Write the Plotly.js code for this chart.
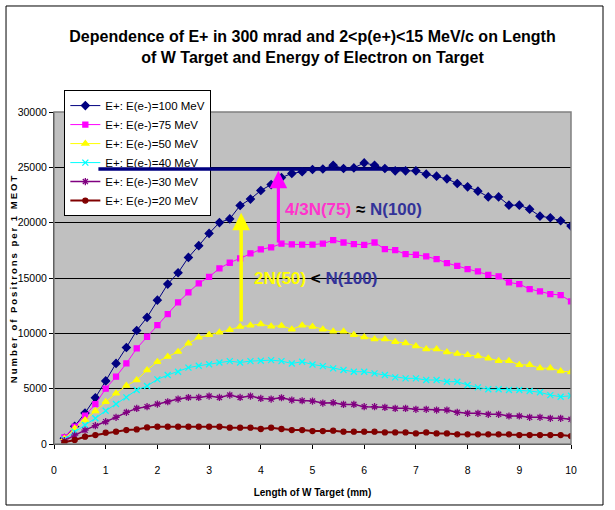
<!DOCTYPE html>
<html><head><meta charset="utf-8">
<script src="https://cdn.plot.ly/plotly-3.0.1.min.js"></script>
<style>html,body{margin:0;padding:0;background:#fff;}#chart{width:615px;height:510px;}</style>
</head><body><div id="chart"></div>
<script>
const lengthMM = [0.2,0.4,0.6,0.8,1.0,1.2,1.4,1.6,1.8,2.0,2.2,2.4,2.6,2.8,3.0,3.2,3.4,3.6,3.8,4.0,4.2,4.4,4.6,4.8,5.0,5.2,5.4,5.6,5.8,6.0,6.2,6.4,6.6,6.8,7.0,7.2,7.4,7.6,7.8,8.0,8.2,8.4,8.6,8.8,9.0,9.2,9.4,9.6,9.8,10.0];
const e100 = [510,1600,2800,4180,5700,7280,8720,10260,11440,13000,14450,15470,16860,17920,19030,20010,20340,21550,22130,22910,23440,24070,24450,24600,24800,24850,25190,24890,24950,25400,25190,24890,24680,24680,24680,24380,24200,23960,23540,23240,22850,22330,22330,21580,21580,21220,20590,20440,20170,19690];
const e75 = [600,1565,2560,3610,5000,6080,7280,8640,9690,10750,11740,12790,13700,14520,15100,15870,16380,16780,17230,17590,17770,18100,18040,18020,18020,18100,18420,18210,18060,18000,18210,17610,17520,17160,17100,16950,16710,16350,16100,15800,15590,15290,15140,14600,14450,14000,13790,13550,13460,12880];
const e50 = [500,1410,2170,2980,3820,4580,5270,5780,6680,7430,7890,8340,9100,9630,9870,10090,10320,10600,10720,10840,10630,10690,10370,10720,10600,10370,10180,10180,9870,9660,9480,9480,9240,9120,8850,8580,8580,8310,8160,8050,7950,7750,7520,7520,7150,7150,6850,6850,6590,6500];
const e40 = [420,1110,1720,2320,3010,3610,4210,4880,5240,5840,6230,6530,6900,7070,7200,7370,7490,7370,7490,7530,7580,7490,7280,7430,7190,7040,6830,6680,6530,6530,6380,6230,6020,5930,5930,5780,5780,5630,5630,5330,5120,4940,4940,4880,4880,4790,4670,4420,4270,4360];
const e30 = [300,800,1250,1655,2020,2410,2860,3220,3370,3610,3820,4060,4200,4210,4330,4210,4420,4210,4330,4120,4060,4180,3970,3910,3880,3700,3730,3580,3580,3370,3370,3310,3220,3220,3130,3130,3070,3070,2860,2770,2770,2680,2680,2530,2530,2410,2410,2320,2320,2230];
const e20 = [150,360,660,810,1020,1110,1260,1320,1500,1565,1565,1565,1565,1565,1565,1565,1475,1475,1475,1355,1475,1355,1260,1260,1170,1170,1200,1110,1110,1110,1110,1050,1050,1050,960,1050,960,960,870,870,870,870,870,870,810,810,810,810,810,720];
const seriesNames = ['E+: E(e-)=100 MeV','E+: E(e-)=75 MeV','E+: E(e-)=50 MeV','E+: E(e-)=40 MeV','E+: E(e-)=30 MeV','E+: E(e-)=20 MeV'];
const xTicks = [0,1,2,3,4,5,6,7,8,9,10];
const yTicks = [0,5000,10000,15000,20000,25000,30000];

const NF = '"Liberation Sans", Arial, sans-serif';
const styles = [
  {c:'#000080', s:'diamond', ms:6, lw:1},
  {c:'#FF00FF', s:'square', ms:5, lw:1},
  {c:'#FFFF00', s:'triangle-up', ms:6, lw:1},
  {c:'#00FFFF', s:'x-thin-open', ms:6, lw:1},
  {c:'#800080', s:'asterisk-open', ms:6, lw:1.5},
  {c:'#800000', s:'circle', ms:5, lw:2}
];
const ys = [e100,e75,e50,e40,e30,e20];
const traces = ys.map((y,i)=>({
  type:'scatter', mode:'lines+markers', x:lengthMM, y:y, name:seriesNames[i],
  line:{color:styles[i].c, width:styles[i].lw},
  marker:{symbol:styles[i].s, size:styles[i].ms, color:styles[i].c, line:{color:styles[i].c, width:1.3}}
}));

const layout = {
  width:615, height:510,
  margin:{l:54, r:44, t:112, b:66},
  paper_bgcolor:'#ffffff', plot_bgcolor:'#C0C0C0',
  font:{family:NF, color:'#000'},
  title:{text:'Dependence of E+ in 300 mrad and 2&lt;p(e+)&lt;15 MeV/c on Length<br>of W Target and Energy of Electron on Target',
    font:{family:NF, size:16, color:'#000', weight:'bold'}, x:0.5, xref:'paper', xanchor:'center', y:0.918, yref:'container', yanchor:'top'},
  xaxis:{range:[0,10], tickvals:xTicks, ticktext:xTicks.map(String), ticks:'outside', ticklen:4, tickcolor:'#000',
    showgrid:false, zeroline:false, showline:true, linecolor:'#000', linewidth:1, ticklabelstandoff:12,
    tickfont:{family:NF, size:10.5, color:'#000'},
    title:{text:'Length of W Target (mm)', font:{family:NF, size:10, color:'#000', weight:'bold'}, standoff:14}},
  yaxis:{range:[0,30000], tickvals:yTicks, ticktext:yTicks.map(String), ticks:'outside', ticklen:4, tickcolor:'#000',
    showgrid:true, gridcolor:'#000', gridwidth:1, zeroline:false, showline:true, linecolor:'#000', linewidth:1,
    tickfont:{family:NF, size:10.5, color:'#000'}},
  showlegend:true,
  legend:{x:0.02, y:1.066, xanchor:'left', yanchor:'top', bgcolor:'#ffffff', bordercolor:'#000', borderwidth:1,
    font:{family:NF, size:11.5, color:'#000'}, itemwidth:30, tracegroupgap:0},
  shapes:[
    {type:'rect', xref:'paper', yref:'paper', x0:0, x1:1, y0:0, y1:1, line:{color:'#808080', width:1.5}, layer:'above'},
    {type:'rect', xref:'paper', yref:'paper', x0:-0.0928, x1:1.0619, y0:-0.1837, y1:1.3193, line:{color:'#000', width:1}}
  ],
  annotations:[
    {x:6.83, y:24850, ax:0.83, ay:24850, xref:'x', yref:'y', axref:'x', ayref:'y', text:'', showarrow:true, arrowhead:0, arrowwidth:3.5, arrowcolor:'#000080', standoff:0, startstandoff:0},
    {x:3.62, y:20900, ax:3.62, ay:10930, xref:'x', yref:'y', axref:'x', ayref:'y', text:'', showarrow:true, arrowhead:2, arrowsize:1, arrowwidth:3.5, arrowcolor:'#FFFF00', standoff:0, startstandoff:0},
    {x:4.34, y:24700, ax:4.34, ay:18070, xref:'x', yref:'y', axref:'x', ayref:'y', text:'', showarrow:true, arrowhead:2, arrowsize:1.1, arrowwidth:3.2, arrowcolor:'#FF00FF', standoff:0, startstandoff:0},
    {x:5.05, y:15000, xref:'x', yref:'y', showarrow:false, xanchor:'center', yanchor:'middle',
      text:'<span style="color:#FFFF00">2N(50)</span> <span style="color:#000000">&lt;</span> <span style="color:#333399">N(100)</span>',
      font:{family:NF, size:17, weight:'bold'}},
    {x:5.79, y:21150, xref:'x', yref:'y', showarrow:false, xanchor:'center', yanchor:'middle',
      text:'<span style="color:#FF33CC">4/3N(75)</span> <span style="color:#000000">≈</span> <span style="color:#333399">N(100)</span>',
      font:{family:NF, size:17, weight:'bold'}},
    {x:-0.079, y:0.5, xref:'paper', yref:'paper', showarrow:false, textangle:-90, xanchor:'center', yanchor:'middle',
      text:'Number of Positrons per 1 MEOT', font:{family:NF, size:9.5, color:'#000', weight:'bold'}}
  ]
};
Plotly.newPlot('chart', traces, layout, {displayModeBar:false, staticPlot:true}).then(()=>{
  document.querySelectorAll('.annotation-text').forEach(t=>{
    if (t.textContent.indexOf('Number of')===0) { t.style.letterSpacing='2px'; }
  });
});
</script></body></html>
